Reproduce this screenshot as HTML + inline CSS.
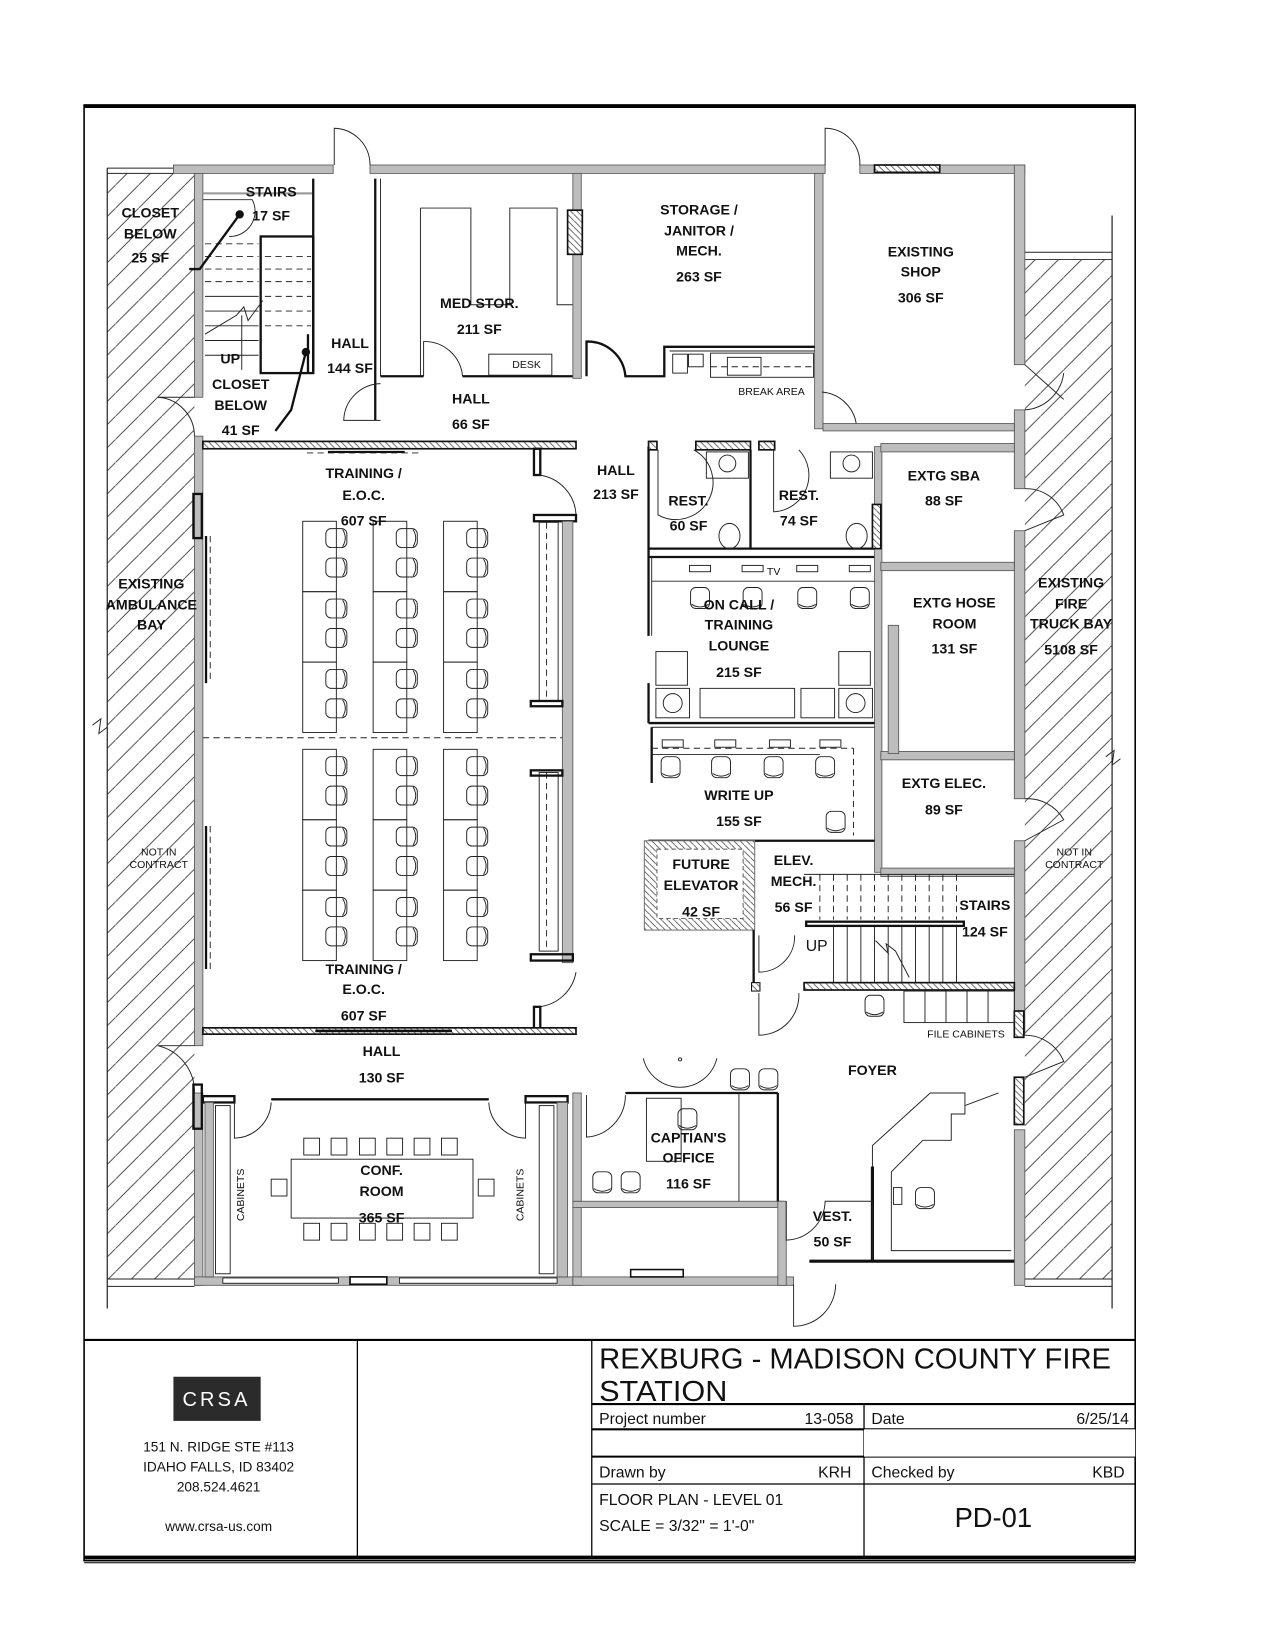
<!DOCTYPE html>
<html><head><meta charset="utf-8"><style>
html,body{margin:0;padding:0;background:#fff}
svg{display:block}
text{font-family:"Liberation Sans",sans-serif;fill:#111}
.l{font-size:13.5px;font-weight:bold;text-anchor:middle}
.s{font-size:10px;text-anchor:middle}
.w{fill:#bdbdbd;stroke:#555;stroke-width:.8}
.b{fill:none;stroke:#111;stroke-width:2.2}
.t{fill:none;stroke:#222;stroke-width:.9}
.d{fill:none;stroke:#222;stroke-width:.9;stroke-dasharray:6 4}
.h{fill:url(#hx);stroke:#111;stroke-width:1.6}
</style></head><body>
<svg width="1275" height="1650" viewBox="0 0 1213 1570" preserveAspectRatio="none" xmlns="http://www.w3.org/2000/svg">
<defs>
<pattern id="hatch" patternUnits="userSpaceOnUse" width="22" height="22"><path d="M0 22 L22 0" stroke="#333" stroke-width=".8"/></pattern>
<pattern id="hx" patternUnits="userSpaceOnUse" width="6" height="6"><rect width="6" height="6" fill="#fff"/><path d="M0 0 L6 6" stroke="#333" stroke-width=".7"/></pattern>
<g id="ch"><rect x="-10" y="-9" width="20" height="18" rx="5" class="t" fill="#fff"/><path d="M6 -8 Q11 0 6 8" class="t"/></g>
<g id="cd"><rect x="-9" y="-10" width="18" height="20" rx="5" class="t" fill="#fff"/><path d="M-8 6 Q0 11 8 6" class="t"/></g>
</defs>
<!-- sheet border -->
<rect x="80" y="100" width="1000" height="1385" fill="none" stroke="#000" stroke-width="1.5"/>
<line x1="80" y1="101" x2="1080" y2="101" stroke="#000" stroke-width="3.5"/>
<line x1="80" y1="1482" x2="1080" y2="1482" stroke="#000" stroke-width="3.5"/>
<line x1="80" y1="1487" x2="1080" y2="1487" stroke="#000" stroke-width="1"/>
<line x1="102" y1="160" x2="102" y2="1245" stroke="#000" stroke-width="1"/>
<line x1="1058" y1="205" x2="1058" y2="1245" stroke="#000" stroke-width="1"/>

<!-- bays -->
<rect x="102" y="165" width="83" height="1052" fill="url(#hatch)"/>
<rect x="975" y="247" width="83" height="970" fill="url(#hatch)"/>
<line x1="102" y1="160" x2="165" y2="160" class="t"/><line x1="102" y1="165" x2="165" y2="165" class="t"/>
<line x1="975" y1="240" x2="1058" y2="240" class="t"/><line x1="975" y1="247" x2="1058" y2="247" class="t"/>
<line x1="102" y1="1217" x2="185" y2="1217" class="t"/><line x1="102" y1="1224" x2="185" y2="1224" class="t"/>
<line x1="975" y1="1217" x2="1058" y2="1217" class="t"/><line x1="975" y1="1224" x2="1058" y2="1224" class="t"/>
<path d="M88 690 l8 -6 l-2 14 l8 -6" class="t"/><path d="M1052 720 l8 -6 l-2 14 l8 -6" class="t"/>

<!-- exterior walls -->
<rect class="w" x="165" y="157" width="152" height="8"/>
<rect class="w" x="352" y="157" width="433" height="8"/>
<rect class="w" x="818" y="157" width="157" height="8"/>
<rect class="h" x="832" y="157" width="62" height="7"/>
<rect class="w" x="185" y="165" width="8" height="213"/>
<rect class="w" x="185" y="415" width="8" height="580"/>
<rect class="w" x="185" y="1040" width="8" height="183"/>
<rect class="w" x="965" y="157" width="10" height="190"/>
<rect class="w" x="965" y="390" width="10" height="75"/>
<rect class="w" x="965" y="505" width="10" height="255"/>
<rect class="w" x="965" y="800" width="10" height="185"/>
<rect class="w" x="965" y="1075" width="10" height="148"/>
<rect class="w" x="185" y="1215" width="360" height="8"/>
<rect x="212" y="1216" width="110" height="5" fill="#fff" stroke="#111" stroke-width=".8"/>
<rect x="333" y="1215" width="35" height="7" fill="#fff" stroke="#111" stroke-width="1.6"/>
<rect x="380" y="1216" width="150" height="5" fill="#fff" stroke="#111" stroke-width=".8"/>
<rect class="w" x="545" y="1145" width="8" height="78"/>
<rect class="w" x="545" y="1215" width="210" height="8"/>
<rect class="w" x="545" y="1143" width="200" height="6"/>
<rect class="w" x="740" y="1143" width="8" height="80"/>
<rect x="600" y="1208" width="50" height="7" fill="#fff" stroke="#111" stroke-width="1.5"/>
<line x1="770" y1="1200" x2="965" y2="1200" stroke="#111" stroke-width="3"/>
<line x1="830" y1="1110" x2="830" y2="1200" stroke="#111" stroke-width="3"/>
<!-- exterior doors -->
<path d="M318 157 L318 122 A35 35 0 0 1 352 157" class="t"/>
<path d="M785 157 L785 122 A33 33 0 0 1 818 157" class="t"/>
<path d="M185 378 L150 378 A37 37 0 0 1 185 415" class="t"/>
<path d="M185 995 L150 995 A45 45 0 0 1 185 1040" class="t"/>
<path d="M975 347 L1012 380 M975 390 A40 40 0 0 0 1012 355" class="t"/>
<path d="M975 465 A38 38 0 0 1 1012 490 L975 505" class="t"/>
<path d="M975 760 A40 40 0 0 1 1012 780 L975 800" class="t"/>
<path d="M975 985 A40 40 0 0 1 1012 1010 L975 1025" class="t"/>
<rect class="h" x="965" y="1025" width="9" height="45"/>
<rect class="h" x="965" y="962" width="9" height="25"/>
<path d="M755 1222 L755 1262 A40 40 0 0 0 795 1222" class="t"/>

<!-- stairs top-left -->
<rect x="193" y="183" width="104" height="2" fill="#999"/>
<rect class="b" x="248" y="225" width="50" height="130"/>
<line x1="298" y1="170" x2="298" y2="355" class="b"/>
<g class="d"><line x1="195" y1="232" x2="246" y2="232"/><line x1="195" y1="244" x2="246" y2="244"/><line x1="195" y1="256" x2="246" y2="256"/><line x1="195" y1="268" x2="246" y2="268"/><line x1="252" y1="244" x2="296" y2="244"/><line x1="252" y1="256" x2="296" y2="256"/><line x1="252" y1="268" x2="296" y2="268"/><line x1="252" y1="282" x2="296" y2="282"/><line x1="252" y1="296" x2="296" y2="296"/><line x1="252" y1="310" x2="296" y2="310"/></g>
<g class="t"><line x1="195" y1="282" x2="246" y2="282"/><line x1="195" y1="296" x2="246" y2="296"/><line x1="195" y1="310" x2="246" y2="310"/><line x1="195" y1="324" x2="246" y2="324"/><line x1="195" y1="338" x2="246" y2="338"/><line x1="230" y1="352" x2="230" y2="300"/><path d="M195 318 L225 300 L232 292 L236 305 L250 286"/></g>
<path d="M193 190 L240 190 A24 24 0 0 1 218 225" class="t"/>
<circle cx="228" cy="204" r="4" fill="#111"/><path d="M228 204 L190 256 L180 256" stroke="#111" stroke-width="2.2" fill="none"/>
<circle cx="291" cy="335" r="4" fill="#111"/><path d="M291 335 L277 390 L262 410" stroke="#111" stroke-width="2.2" fill="none"/>
<line x1="293" y1="318" x2="293" y2="355" class="b"/>

<!-- hall 144 / medstor -->
<line x1="357" y1="170" x2="357" y2="400" class="b"/>
<line x1="362" y1="170" x2="362" y2="358" class="t"/>
<path d="M362 358 L403 358 M440 358 L545 358" class="b"/>
<path d="M403 358 L403 325 A36 36 0 0 1 440 358" class="t"/>
<path d="M400 198 L400 357 M400 198 L448 198 L448 290 L485 290 L485 198 L530 198 L530 290 L545 290" class="t"/>
<rect x="465" y="337" width="60" height="20" class="t"/>
<rect class="w" x="545" y="165" width="8" height="195"/>
<rect class="h" x="540" y="200" width="14" height="42"/>
<rect class="w" x="775" y="165" width="8" height="243"/>
<path d="M558 358 L558 325 A36 36 0 0 1 595 358 L632 358 L632 330 L775 330" class="b"/>
<line x1="637" y1="334" x2="775" y2="334" class="t"/>
<rect x="640" y="337" width="14" height="18" class="t"/><rect x="655" y="337" width="14" height="12" class="t"/>
<rect x="676" y="336" width="98" height="23" class="t"/><rect x="692" y="340" width="32" height="17" class="t"/>
<line x1="676" y1="349" x2="774" y2="349" class="d"/>
<path d="M783 408 L815 408 A36 36 0 0 0 782 373" class="t"/>
<rect class="w" x="783" y="403" width="182" height="7"/>
<path d="M362 400 L327 400 A36 36 0 0 1 362 365" class="t"/>
<!-- training top wall -->
<rect class="h" x="193" y="420" width="355" height="7"/>
<path d="M292 431 L400 431" class="d"/><line x1="312" y1="430" x2="385" y2="430" stroke="#111" stroke-width="2"/>
<!-- training room -->
<rect class="b" x="508" y="427" width="6" height="25" fill="#fff"/>
<path d="M512 452 A40 40 0 0 1 548 490" class="t"/>
<rect class="b" x="508" y="490" width="40" height="6" fill="#fff"/>
<rect class="w" x="535" y="496" width="10" height="420"/>
<rect x="513" y="497" width="18" height="170" class="t"/><line x1="520" y1="497" x2="520" y2="667" class="d"/>
<rect x="513" y="735" width="18" height="170" class="t"/><line x1="520" y1="735" x2="520" y2="905" class="d"/>
<rect class="b" x="505" y="667" width="30" height="5"/><rect class="b" x="505" y="733" width="30" height="5"/>
<rect class="b" x="505" y="908" width="40" height="6" fill="#fff"/>
<path d="M512 958 A40 40 0 0 0 548 925" class="t"/>
<rect class="b" x="508" y="958" width="6" height="22" fill="#fff"/>
<line x1="193" y1="702" x2="535" y2="702" class="d"/>
<rect class="b" x="184" y="470" width="8" height="42"/>
<line x1="196" y1="510" x2="196" y2="650" stroke="#111" stroke-width="2.2"/><line x1="200" y1="510" x2="200" y2="650" class="d"/>
<line x1="196" y1="786" x2="196" y2="922" stroke="#111" stroke-width="2.2"/><line x1="200" y1="786" x2="200" y2="922" class="d"/>
<rect class="b" x="184" y="1032" width="8" height="42"/>
<g id="desks">
<rect x="288" y="496" width="32" height="67" class="t"/><rect x="288" y="563" width="32" height="67" class="t"/><rect x="288" y="630" width="32" height="67" class="t"/>
<rect x="355" y="496" width="32" height="67" class="t"/><rect x="355" y="563" width="32" height="67" class="t"/><rect x="355" y="630" width="32" height="67" class="t"/>
<rect x="422" y="496" width="32" height="67" class="t"/><rect x="422" y="563" width="32" height="67" class="t"/><rect x="422" y="630" width="32" height="67" class="t"/>
</g>
<use href="#desks" y="217"/>
<g id="chs">
<use href="#ch" x="320" y="512"/><use href="#ch" x="320" y="540"/><use href="#ch" x="320" y="579"/><use href="#ch" x="320" y="607"/><use href="#ch" x="320" y="646"/><use href="#ch" x="320" y="674"/>
<use href="#ch" x="387" y="512"/><use href="#ch" x="387" y="540"/><use href="#ch" x="387" y="579"/><use href="#ch" x="387" y="607"/><use href="#ch" x="387" y="646"/><use href="#ch" x="387" y="674"/>
<use href="#ch" x="454" y="512"/><use href="#ch" x="454" y="540"/><use href="#ch" x="454" y="579"/><use href="#ch" x="454" y="607"/><use href="#ch" x="454" y="646"/><use href="#ch" x="454" y="674"/>
</g>
<use href="#chs" y="217"/>
<!-- training bottom wall -->
<rect class="h" x="193" y="978" width="355" height="6"/>
<line x1="300" y1="981" x2="430" y2="981" stroke="#111" stroke-width="2.5"/>
<!-- conf room -->
<rect class="b" x="193" y="1043" width="30" height="6"/>
<path d="M223 1049 L223 1083 A36 36 0 0 0 258 1049" class="t"/>
<line x1="258" y1="1046" x2="465" y2="1046" class="b"/>
<path d="M465 1049 A36 36 0 0 0 500 1083 L500 1049" class="t"/>
<rect class="b" x="500" y="1043" width="40" height="6"/>
<rect class="w" x="195" y="1049" width="8" height="166"/><rect class="w" x="530" y="1049" width="10" height="166"/>
<rect x="205" y="1052" width="14" height="160" class="t"/><rect x="513" y="1052" width="14" height="160" class="t"/>
<rect x="277" y="1103" width="173" height="56" class="t"/>
<g class="t"><rect x="289" y="1083" width="15" height="16"/><rect x="315" y="1083" width="15" height="16"/><rect x="342" y="1083" width="15" height="16"/><rect x="368" y="1083" width="15" height="16"/><rect x="394" y="1083" width="15" height="16"/><rect x="420" y="1083" width="15" height="16"/>
<rect x="289" y="1164" width="15" height="16"/><rect x="315" y="1164" width="15" height="16"/><rect x="342" y="1164" width="15" height="16"/><rect x="368" y="1164" width="15" height="16"/><rect x="394" y="1164" width="15" height="16"/><rect x="420" y="1164" width="15" height="16"/>
<rect x="258" y="1122" width="15" height="16"/><rect x="455" y="1122" width="15" height="16"/></g>

<!-- center column: restrooms -->
<line x1="617" y1="425" x2="617" y2="605" class="b"/>
<rect class="h" x="617" y="420" width="8" height="8"/>
<rect class="h" x="662" y="420" width="52" height="8"/>
<rect class="h" x="722" y="420" width="15" height="8"/>
<path d="M626 428 L626 490 A35 35 0 0 0 660 428" class="t"/>
<path d="M736 428 L736 487 A35 35 0 0 0 760 428" class="t"/>
<line x1="714" y1="428" x2="714" y2="522" class="b"/>
<line x1="617" y1="522" x2="832" y2="522" class="b"/>
<line x1="617" y1="530" x2="832" y2="530" class="b"/>
<rect x="672" y="430" width="40" height="25" class="t"/><circle cx="692" cy="441" r="8" class="t"/>
<rect x="790" y="430" width="40" height="25" class="t"/><circle cx="810" cy="441" r="8" class="t"/>
<ellipse cx="694" cy="510" rx="10" ry="12" class="t"/><ellipse cx="815" cy="510" rx="10" ry="12" class="t"/>
<rect class="w" x="832" y="425" width="7" height="405"/>
<rect class="h" x="830" y="480" width="8" height="42"/>
<rect class="w" x="838" y="422" width="127" height="8"/>
<rect class="w" x="838" y="535" width="127" height="8"/>
<rect class="w" x="838" y="715" width="127" height="8"/>
<rect class="w" x="838" y="826" width="127" height="8"/>
<rect class="w" x="845" y="595" width="10" height="122"/>
<!-- lounge -->
<line x1="620" y1="530" x2="620" y2="605" class="t"/>
<line x1="620" y1="553" x2="832" y2="553" class="t"/>
<g class="t"><rect x="656" y="538" width="20" height="6"/><rect x="706" y="538" width="20" height="6"/><rect x="758" y="538" width="20" height="6"/><rect x="808" y="538" width="20" height="6"/></g>
<use href="#cd" x="666" y="569"/><use href="#cd" x="716" y="569"/><use href="#cd" x="768" y="569"/><use href="#cd" x="818" y="569"/>
<rect x="624" y="620" width="30" height="32" class="t"/><rect x="798" y="620" width="30" height="32" class="t"/>
<rect x="624" y="655" width="32" height="28" class="t"/><circle cx="640" cy="669" r="9" class="t"/>
<rect x="798" y="655" width="32" height="28" class="t"/><circle cx="814" cy="669" r="9" class="t"/>
<rect x="666" y="655" width="90" height="28" class="t"/><rect x="762" y="655" width="32" height="28" class="t"/>
<line x1="617" y1="650" x2="617" y2="688" class="b"/>
<line x1="617" y1="688" x2="832" y2="688" class="b"/><line x1="620" y1="692" x2="832" y2="692" class="t"/>
<!-- write up -->
<line x1="620" y1="692" x2="620" y2="745" class="b"/>
<line x1="620" y1="712" x2="812" y2="712" class="d"/><line x1="620" y1="718" x2="780" y2="718" class="t"/>
<line x1="812" y1="712" x2="812" y2="795" class="d"/>
<g class="t"><rect x="630" y="704" width="20" height="7"/><rect x="680" y="704" width="20" height="7"/><rect x="732" y="704" width="20" height="7"/><rect x="780" y="704" width="20" height="7"/></g>
<use href="#cd" x="638" y="730"/><use href="#cd" x="686" y="730"/><use href="#cd" x="736" y="730"/><use href="#cd" x="785" y="730"/>
<use href="#cd" x="795" y="782"/>
<line x1="617" y1="800" x2="832" y2="800" class="b"/>
<!-- elevator -->
<rect x="613" y="800" width="105" height="85" fill="url(#hx)" stroke="#777" stroke-width="1"/>
<rect x="625" y="808" width="82" height="66" fill="#fff" stroke="#666" stroke-width="1" stroke-dasharray="4 3"/>
<line x1="717" y1="885" x2="717" y2="940" class="b"/>
<path d="M722 890 L722 925 A34 34 0 0 0 756 890" class="t"/>
<rect x="715" y="935" width="8" height="8" fill="url(#hx)" stroke="#111"/>
<path d="M722 945 L722 985 A38 38 0 0 0 760 945" class="t"/>
<!-- stairs 124 -->
<g class="d">
<line x1="780" y1="832" x2="780" y2="875"/><line x1="793" y1="832" x2="793" y2="875"/><line x1="806" y1="832" x2="806" y2="875"/><line x1="819" y1="832" x2="819" y2="875"/><line x1="832" y1="832" x2="832" y2="875"/><line x1="845" y1="832" x2="845" y2="875"/><line x1="858" y1="832" x2="858" y2="875"/><line x1="871" y1="832" x2="871" y2="875"/><line x1="884" y1="832" x2="884" y2="875"/><line x1="897" y1="832" x2="897" y2="875"/><line x1="910" y1="832" x2="910" y2="875"/></g>
<line x1="765" y1="832" x2="965" y2="832" class="t"/>
<rect x="767" y="877" width="150" height="4" class="b"/>
<g class="t"><line x1="793" y1="882" x2="793" y2="935"/><line x1="806" y1="882" x2="806" y2="935"/><line x1="819" y1="882" x2="819" y2="935"/><line x1="832" y1="882" x2="832" y2="935"/><line x1="845" y1="882" x2="845" y2="935"/><line x1="858" y1="882" x2="858" y2="935"/><line x1="871" y1="882" x2="871" y2="935"/><line x1="884" y1="882" x2="884" y2="935"/><line x1="897" y1="882" x2="897" y2="935"/><line x1="910" y1="882" x2="910" y2="935"/><path d="M833 895 L845 907 L843 898 L852 905 L865 930"/></g>
<rect class="h" x="765" y="935" width="200" height="7"/>
<g class="t"><rect x="860" y="943" width="105" height="30"/><line x1="880" y1="943" x2="880" y2="973"/><line x1="900" y1="943" x2="900" y2="973"/><line x1="920" y1="943" x2="920" y2="973"/><line x1="940" y1="943" x2="940" y2="973"/></g>
<use href="#cd" x="832" y="957"/>
<!-- captain office -->
<path d="M612 1007 A36 36 0 0 0 682 1007" class="t"/><circle cx="647" cy="1008" r="1.5" class="t"/>
<use href="#cd" x="704" y="1027"/><use href="#cd" x="731" y="1027"/>
<rect class="w" x="545" y="1040" width="8" height="103"/>
<path d="M558 1042 L558 1082 A40 40 0 0 0 595 1042" class="t"/>
<line x1="595" y1="1040" x2="740" y2="1040" class="b"/>
<line x1="740" y1="1040" x2="740" y2="1143" class="b"/>
<line x1="703" y1="1040" x2="703" y2="1143" class="t"/>
<rect x="615" y="1045" width="33" height="60" class="t"/>
<use href="#cd" x="654" y="1065"/><use href="#cd" x="573" y="1125"/><use href="#cd" x="600" y="1125"/>
<path d="M748 1143 L748 1180 A38 38 0 0 0 785 1143 L830 1143 L830 1200" class="t"/>
<!-- reception desk -->
<path d="M830 1110 L830 1090 L885 1040 L918 1040 L918 1060 L905 1060 L905 1085 L878 1085 L848 1115 L848 1190 L962 1190" class="t"/>
<path d="M918 1052 L950 1040" class="t"/>
<use href="#cd" x="880" y="1140"/><rect x="850" y="1130" width="8" height="16" class="t"/>

<!-- labels -->
<g class="l">
<text x="143" y="207">CLOSET</text><text x="143" y="227">BELOW</text><text x="143" y="250">25 SF</text>
<text x="258" y="187">STAIRS</text><text x="258" y="210">17 SF</text>
<text x="333" y="331">HALL</text><text x="333" y="355">144 SF</text>
<text x="456" y="293">MED STOR.</text><text x="456" y="318">211 SF</text>
<text x="665" y="204">STORAGE /</text><text x="665" y="224">JANITOR /</text><text x="665" y="243">MECH.</text><text x="665" y="268">263 SF</text>
<text x="876" y="244">EXISTING</text><text x="876" y="263">SHOP</text><text x="876" y="288">306 SF</text>
<text x="229" y="370">CLOSET</text><text x="229" y="390">BELOW</text><text x="229" y="414">41 SF</text>
<text x="219" y="346">UP</text>
<text x="448" y="384">HALL</text><text x="448" y="408">66 SF</text>
<text x="586" y="452">HALL</text><text x="586" y="475">213 SF</text>
<text x="346" y="455">TRAINING /</text><text x="346" y="476">E.O.C.</text><text x="346" y="500">607 SF</text>
<text x="655" y="481">REST.</text><text x="655" y="505">60 SF</text>
<text x="760" y="476">REST.</text><text x="760" y="500">74 SF</text>
<text x="898" y="457">EXTG SBA</text><text x="898" y="481">88 SF</text>
<text x="144" y="560">EXISTING</text><text x="144" y="580">AMBULANCE</text><text x="144" y="599">BAY</text>
<text x="1019" y="559">EXISTING</text><text x="1019" y="579">FIRE</text><text x="1019" y="598">TRUCK BAY</text><text x="1019" y="623">5108 SF</text>
<text x="703" y="580">ON CALL /</text><text x="703" y="599">TRAINING</text><text x="703" y="619">LOUNGE</text><text x="703" y="644">215 SF</text>
<text x="908" y="578">EXTG HOSE</text><text x="908" y="598">ROOM</text><text x="908" y="622">131 SF</text>
<text x="703" y="761">WRITE UP</text><text x="703" y="786">155 SF</text>
<text x="898" y="750">EXTG ELEC.</text><text x="898" y="775">89 SF</text>
<text x="667" y="827">FUTURE</text><text x="667" y="847">ELEVATOR</text><text x="667" y="872">42 SF</text>
<text x="755" y="823">ELEV.</text><text x="755" y="843">MECH.</text><text x="755" y="868">56 SF</text>
<text x="937" y="866">STAIRS</text><text x="937" y="891">124 SF</text>
<text x="777" y="905" style="font-weight:normal;font-size:15px">UP</text>
<text x="346" y="927">TRAINING /</text><text x="346" y="946">E.O.C.</text><text x="346" y="971">607 SF</text>
<text x="363" y="1005">HALL</text><text x="363" y="1030">130 SF</text>
<text x="830" y="1023">FOYER</text>
<text x="655" y="1087">CAPTIAN'S</text><text x="655" y="1106">OFFICE</text><text x="655" y="1131">116 SF</text>
<text x="363" y="1118">CONF.</text><text x="363" y="1138">ROOM</text><text x="363" y="1163">365 SF</text>
<text x="792" y="1162">VEST.</text><text x="792" y="1186">50 SF</text>
</g>
<g class="s">
<text x="151" y="814">NOT IN</text><text x="151" y="826">CONTRACT</text>
<text x="1022" y="814">NOT IN</text><text x="1022" y="826">CONTRACT</text>
<text x="919" y="987">FILE CABINETS</text>
<text x="501" y="350">DESK</text><text x="734" y="376">BREAK AREA</text><text x="736" y="547">TV</text>
<text transform="translate(232 1137) rotate(-90)">CABINETS</text>
<text transform="translate(498 1137) rotate(-90)">CABINETS</text>
</g>

<!-- title block -->
<line x1="80" y1="1275" x2="1080" y2="1275" stroke="#000" stroke-width="2"/>
<line x1="340" y1="1275" x2="340" y2="1482" stroke="#000" stroke-width="1.2"/>
<line x1="563" y1="1275" x2="563" y2="1482" stroke="#000" stroke-width="1.2"/>
<line x1="822" y1="1336" x2="822" y2="1482" stroke="#000" stroke-width="1.2"/>
<line x1="563" y1="1336" x2="1080" y2="1336" stroke="#000" stroke-width="2"/>
<line x1="563" y1="1360" x2="1080" y2="1360" stroke="#000" stroke-width="2"/>
<line x1="563" y1="1386" x2="1080" y2="1386" stroke="#000" stroke-width="2"/>
<line x1="563" y1="1412" x2="1080" y2="1412" stroke="#000" stroke-width="1.2"/>
<rect x="822" y="1360" width="258" height="26" fill="#fff"/>
<line x1="822" y1="1360" x2="822" y2="1336" stroke="#000"/>
<text x="570" y="1302" font-size="27" textLength="487" lengthAdjust="spacingAndGlyphs">REXBURG - MADISON COUNTY FIRE</text>
<text x="570" y="1333" font-size="27" textLength="122" lengthAdjust="spacingAndGlyphs">STATION</text>
<g font-size="15">
<text x="570" y="1355">Project number</text><text x="812" y="1355" text-anchor="end">13-058</text>
<text x="829" y="1355">Date</text><text x="1074" y="1355" text-anchor="end">6/25/14</text>
<text x="570" y="1406">Drawn by</text><text x="810" y="1406" text-anchor="end">KRH</text>
<text x="829" y="1406">Checked by</text><text x="1070" y="1406" text-anchor="end">KBD</text>
<text x="570" y="1432">FLOOR PLAN - LEVEL 01</text>
<text x="570" y="1457">SCALE = 3/32" = 1'-0"</text>
</g>
<text x="945" y="1453" font-size="26" text-anchor="middle">PD-01</text>
<rect x="165" y="1310" width="83" height="42" fill="#2b2b2b"/>
<text x="206" y="1338" font-size="19" fill="#fff" style="fill:#fff" text-anchor="middle" letter-spacing="3">CRSA</text>
<g font-size="13" text-anchor="middle">
<text x="208" y="1381">151 N. RIDGE STE #113</text>
<text x="208" y="1400">IDAHO FALLS, ID 83402</text>
<text x="208" y="1419">208.524.4621</text>
<text x="208" y="1457">www.crsa-us.com</text>
</g>
</svg>
</body></html>
